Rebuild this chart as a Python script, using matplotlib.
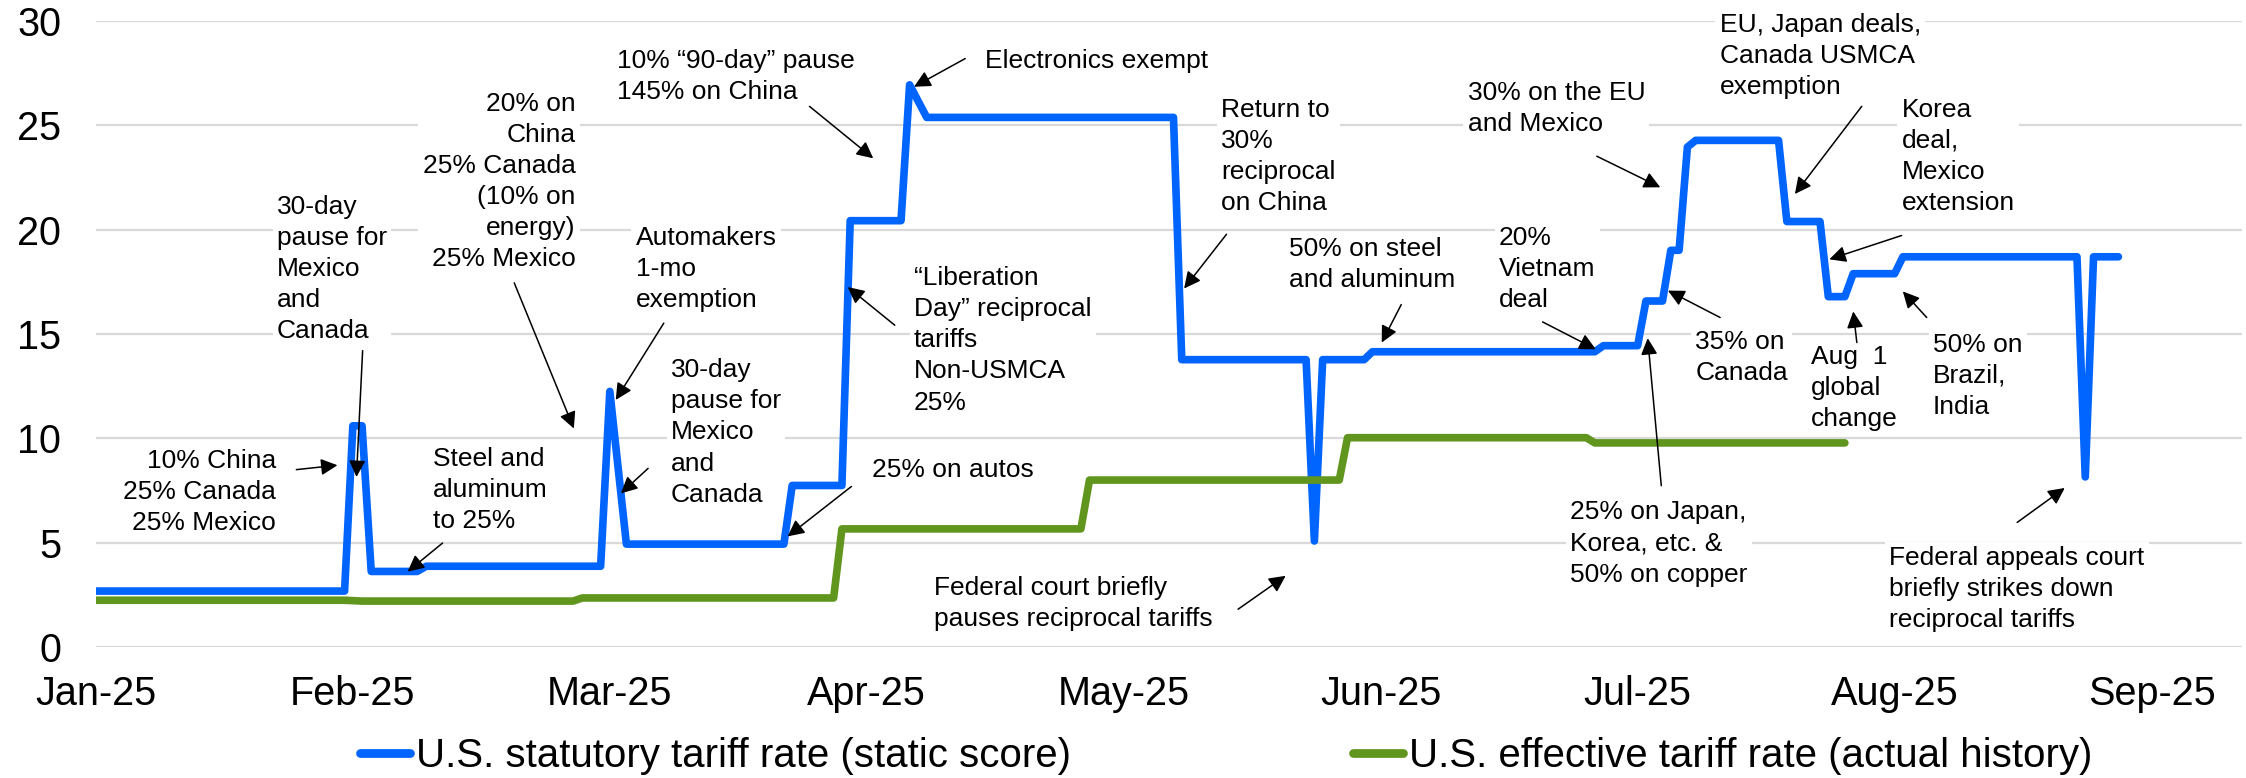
import numpy as np
import pandas as pd
import matplotlib.pyplot as plt
from matplotlib.lines import Line2D

plt.rcParams["font.family"] = ["Liberation Sans", "DejaVu Sans"]

# ---- data ----
month_labels = ["Jan-25", "Feb-25", "Mar-25", "Apr-25", "May-25",
                "Jun-25", "Jul-25", "Aug-25", "Sep-25"]

statutory_dates = [
    "2025-01-01", "2025-01-31", "2025-02-01", "2025-02-02", "2025-02-03",
    "2025-02-08", "2025-02-09", "2025-02-28", "2025-03-01", "2025-03-03",
    "2025-03-22", "2025-03-23", "2025-03-29", "2025-03-30", "2025-04-05",
    "2025-04-06", "2025-04-08", "2025-05-07", "2025-05-08", "2025-05-23",
    "2025-05-24", "2025-05-25", "2025-05-30", "2025-05-31", "2025-06-26",
    "2025-06-27", "2025-07-01", "2025-07-02", "2025-07-04", "2025-07-05",
    "2025-07-06", "2025-07-07", "2025-07-08", "2025-07-18", "2025-07-19",
    "2025-07-23", "2025-07-24", "2025-07-26", "2025-07-27", "2025-08-01",
    "2025-08-02", "2025-08-23", "2025-08-24", "2025-08-25", "2025-08-28",
]
statutory_rate = [
    2.68, 2.68, 10.6, 10.6, 3.62,
    3.62, 3.87, 3.87, 12.25, 4.93,
    4.93, 7.74, 7.74, 20.43, 20.43,
    26.94, 25.38, 25.38, 13.77, 13.77,
    5.08, 13.77, 13.77, 14.15, 14.15,
    14.44, 14.44, 16.58, 16.58, 19.01,
    19.01, 23.96, 24.28, 24.28, 20.39,
    20.39, 16.79, 16.79, 17.89, 17.89,
    18.70, 18.70, 8.15, 18.70, 18.70,
]

effective_dates = [
    "2025-01-01", "2025-01-31", "2025-02-02", "2025-02-25", "2025-02-26",
    "2025-03-28", "2025-03-29", "2025-04-26", "2025-04-27", "2025-05-27",
    "2025-05-28", "2025-06-25", "2025-06-26", "2025-07-26",
]
effective_rate = [
    2.24, 2.24, 2.20, 2.20, 2.35,
    2.35, 5.66, 5.66, 8.0, 8.0,
    10.03, 10.03, 9.78, 9.78,
]

# (text, x, y, alignment, tail of arrow, head of arrow) in chart units (months, %)
notes = [
    ("10% China\n25% Canada\n25% Mexico", 0.70, 7.43, "right", (0.78, 8.50), (0.94, 8.71)),
    ("30-day\npause for\nMexico\nand\nCanada", 0.705, 18.1, "left", (1.038, 14.2), (1.014, 8.15)),
    ("20% on\nChina\n25% Canada\n(10% on\nenergy)\n25% Mexico", 1.866, 22.3, "right", (1.628, 17.45), (1.86, 10.47)),
    ("Steel and\naluminum\nto 25%", 1.311, 7.52, "left", (1.349, 4.98), (1.213, 3.61)),
    ("Automakers\n1-mo\nexemption", 2.10, 18.1, "left", (2.21, 15.52), (2.023, 11.84)),
    ("30-day\npause for\nMexico\nand\nCanada", 2.238, 10.28, "left", (2.149, 8.56), (2.043, 7.36)),
    ("10% \u201c90-day\u201d pause\n145% on China", 2.027, 27.33, "left", (2.777, 25.91), (3.025, 23.42)),
    ("Electronics exempt", 3.462, 28.09, "left", (3.383, 28.2), (3.184, 26.85)),
    ("\u201cLiberation\nDay\u201d reciprocal\ntariffs\nNon-USMCA\n25%", 3.184, 14.69, "left", (3.109, 15.42), (2.926, 17.25)),
    ("25% on autos", 3.021, 8.46, "left", (2.94, 7.69), (2.692, 5.30)),
    ("Return to\n30%\nreciprocal\non China", 4.379, 23.52, "left", (4.40, 19.78), (4.235, 17.18)),
    ("50% on steel\nand aluminum", 4.643, 18.33, "left", (5.08, 16.41), (5.004, 14.59)),
    ("Federal court briefly\npauses reciprocal tariffs", 3.26, 2.09, "left", (4.445, 1.81), (4.63, 3.41)),
    ("30% on the EU\nand Mexico", 5.338, 25.81, "left", (5.841, 23.52), (6.088, 22.03)),
    ("EU, Japan deals,\nCanada USMCA\nexemption", 6.319, 28.34, "left", (6.872, 25.91), (6.612, 21.71)),
    ("Korea\ndeal,\nMexico\nextension", 7.027, 23.52, "left", (7.027, 19.72), (6.746, 18.58)),
    ("20%\nVietnam\ndeal", 5.46, 18.1, "left", (5.63, 15.58), (5.837, 14.27)),
    ("35% on\nCanada", 6.224, 13.89, "left", (6.321, 15.79), (6.118, 17.08)),
    ("Aug  1\nglobal\nchange", 6.675, 12.4, "left", (6.853, 14.59), (6.839, 16.08)),
    ("50% on\nBrazil,\nIndia", 7.149, 13.0, "left", (7.125, 15.79), (7.032, 17.04)),
    ("25% on Japan,\nKorea, etc. &\n50% on copper", 5.737, 4.96, "left", (6.092, 7.73), (6.039, 14.8)),
    ("Federal appeals court\nbriefly strikes down\nreciprocal tariffs", 6.979, 2.78, "left", (7.477, 5.97), (7.662, 7.62)),
]

BLUE = "#0064FF"
GREEN = "#61961E"


def month_pos(dates):
    # position on the axis in months since Jan-25
    d = pd.to_datetime(pd.Series(dates))
    return ((d.dt.month - 1) + (d.dt.day - 1) / d.dt.days_in_month).to_numpy()


fig = plt.figure(figsize=(22.46, 7.78), dpi=100)
ax = fig.add_axes([0.0427, 0.1684, 0.9553, 0.8046])

ax.plot(month_pos(statutory_dates), statutory_rate, color=BLUE, lw=5.5,
        solid_capstyle="round", solid_joinstyle="round", zorder=3)
ax.plot(month_pos(effective_dates), effective_rate, color=GREEN, lw=5.5,
        solid_capstyle="round", solid_joinstyle="round", zorder=3.1)

ax.set_xlim(0, 8.35)
ax.set_ylim(0, 30)
ax.set_xticks(range(len(month_labels)))
ax.set_xticklabels(month_labels)
ax.set_yticks(range(0, 31, 5))
ax.tick_params(axis="both", length=0, labelsize=28.5)
ax.tick_params(axis="x", pad=20)
ax.tick_params(axis="y", pad=25)
ax.grid(axis="y", color="#d9d9d9", lw=1.6)
ax.set_axisbelow(True)
for s in ax.spines.values():
    s.set_visible(False)

for text, tx, ty, ha, tail, head in notes:
    ax.text(tx, ty, text, ha=ha, va="center", fontsize=19, linespacing=1.37,
            zorder=2, bbox=dict(facecolor="white", edgecolor="none", pad=3))
    ax.annotate("", xy=head, xytext=tail, zorder=4,
                arrowprops=dict(arrowstyle="-|>,head_length=0.5,head_width=0.25",
                                color="black", lw=1.1, mutation_scale=20,
                                shrinkA=0, shrinkB=0))

handles = [
    Line2D([], [], color=BLUE, lw=6.3, solid_capstyle="round"),
    Line2D([], [], color=GREEN, lw=6.3, solid_capstyle="round"),
]
fig.legend(handles, ["U.S. statutory tariff rate (static score)",
                     "U.S. effective tariff rate (actual history)"],
           loc="center", bbox_to_anchor=(0.546, 0.028), ncol=2, frameon=False,
           fontsize=29, handlelength=1.25, handletextpad=0.15, columnspacing=7,
           borderpad=0)

fig.savefig("out.png", dpi=100)
